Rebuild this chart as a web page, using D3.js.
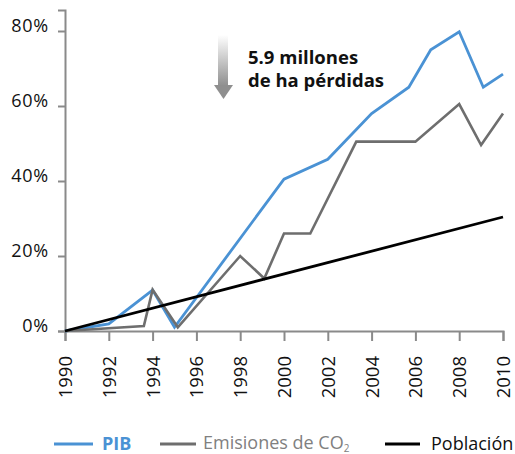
<!DOCTYPE html>
<html>
<head>
<meta charset="utf-8">
<script src="https://cdn.jsdelivr.net/npm/d3@7"></script>
<style>
  body { margin: 0; background: #fff; }
  text { font-family: "Open Sans", sans-serif; }
</style>
</head>
<body>
<div id="chart"></div>
<script>
// values (% change since 1990)
const pibYears = [1990, 1992, 1994, 1995, 2000, 2002, 2004, 2005.7, 2006.7, 2008, 2009.1, 2010];
const pibValues = [0, 1.9, 10.9, 1, 40.5, 45.8, 58, 65, 75, 79.8, 65, 68.5];

const co2Years = [1990, 1993.6, 1994, 1995.15, 1998, 1999.1, 2000, 2001.2, 2003.3, 2006, 2008, 2009, 2010];
const co2Values = [0, 1.3, 11, 1, 20, 14, 26, 26, 50.5, 50.5, 60.5, 49.6, 58];

const popYears = [1990, 2010];
const popValues = [0, 30.4];

const xTicks = [1990, 1992, 1994, 1996, 1998, 2000, 2002, 2004, 2006, 2008, 2010];
const yTicks = [0, 20, 40, 60, 80];

const width = 515, height = 454;
const margin = { top: 10, left: 65, right: 12, bottom: 123 };

const svg = d3.select("#chart").append("svg")
    .attr("width", width)
    .attr("height", height);

const x = d3.scaleLinear().domain([1990, 2010]).range([margin.left, width - margin.right]);
const y = d3.scaleLinear().domain([0, 85.6]).range([height - margin.bottom, margin.top]);

const axisColor = "#8a8a8a";

// y axis
const yAxis = svg.append("g")
    .attr("transform", `translate(${margin.left},0)`)
    .call(d3.axisLeft(y).tickValues(yTicks).tickSizeOuter(0).tickSize(7).tickFormat(d => d + "%"));
yAxis.select(".domain").attr("stroke", axisColor).attr("stroke-width", 2);
yAxis.selectAll(".tick line").attr("stroke", axisColor).attr("stroke-width", 2);
yAxis.selectAll(".tick text")
    .attr("x", -16)
    .attr("dy", "0")
    .attr("fill", "#111")
    .style("font-size", "18px")
    .style("letter-spacing", "0.8px");

// x axis
const xAxis = svg.append("g")
    .attr("transform", `translate(0,${y(0)})`)
    .call(d3.axisBottom(x).tickValues(xTicks).tickSizeOuter(0).tickSize(10).tickFormat(d3.format("d")));
xAxis.select(".domain").attr("stroke", axisColor).attr("stroke-width", 2);
xAxis.selectAll(".tick line").attr("stroke", axisColor).attr("stroke-width", 2);
xAxis.selectAll(".tick text")
    .attr("transform", "rotate(-90)")
    .attr("x", -25)
    .attr("y", 0)
    .attr("dy", "0.35em")
    .attr("text-anchor", "end")
    .attr("fill", "#111")
    .style("font-size", "18.5px");

// lines
const line = d3.line().x(d => x(d[0])).y(d => y(d[1]));

const series = [
    { name: "PIB", years: pibYears, values: pibValues, color: "#4a92d4", width: 2.8 },
    { name: "CO2", years: co2Years, values: co2Values, color: "#6e6e6e", width: 2.6 },
    { name: "Población", years: popYears, values: popValues, color: "#000", width: 2.8 }
];

series.forEach(s => {
    svg.append("path")
        .datum(s.years.map((yr, i) => [yr, s.values[i]]))
        .attr("fill", "none")
        .attr("stroke", s.color)
        .attr("stroke-width", s.width)
        .attr("stroke-linejoin", "miter")
        .attr("d", line);
});

// annotation arrow
const defs = svg.append("defs");
const grad = defs.append("linearGradient")
    .attr("id", "arrowGrad")
    .attr("x1", "0%").attr("y1", "0%")
    .attr("x2", "0%").attr("y2", "100%");
grad.append("stop").attr("offset", "0%").attr("stop-color", "#ffffff");
grad.append("stop").attr("offset", "100%").attr("stop-color", "#8f8f8f");

svg.append("rect")
    .attr("x", 218).attr("y", 35)
    .attr("width", 10).attr("height", 51)
    .attr("fill", "url(#arrowGrad)");
svg.append("path")
    .attr("d", "M214,85 L233,85 L223.5,99 Z")
    .attr("fill", "#8f8f8f");

const note = svg.append("text")
    .attr("x", 248).attr("y", 64)
    .attr("fill", "#111")
    .style("font-size", "18.5px")
    .style("font-weight", "bold");
note.append("tspan").attr("x", 248).text("5.9 millones");
note.append("tspan").attr("x", 248).attr("dy", 23).text("de ha pérdidas");

// legend
const legend = svg.append("g");
const legendY = 444;

legend.append("line").attr("x1", 54).attr("x2", 93).attr("y1", legendY).attr("y2", legendY)
    .attr("stroke", "#4a92d4").attr("stroke-width", 3);
legend.append("text").attr("x", 102).attr("y", 450)
    .attr("fill", "#4a92d4")
    .style("font-size", "18px").style("font-weight", "bold")
    .text("PIB");

legend.append("line").attr("x1", 160).attr("x2", 196).attr("y1", legendY).attr("y2", legendY)
    .attr("stroke", "#6e6e6e").attr("stroke-width", 3);
const co2Text = legend.append("text").attr("x", 203).attr("y", 449)
    .attr("fill", "#808080")
    .style("font-size", "18px");
co2Text.append("tspan").text("Emisiones de CO");
co2Text.append("tspan").attr("dy", 3).style("font-size", "10px").text("2");

legend.append("line").attr("x1", 385).attr("x2", 420).attr("y1", legendY).attr("y2", legendY)
    .attr("stroke", "#000").attr("stroke-width", 3);
legend.append("text").attr("x", 431).attr("y", 450)
    .attr("fill", "#111")
    .style("font-size", "18px")
    .text("Población");
</script>
</body>
</html>
